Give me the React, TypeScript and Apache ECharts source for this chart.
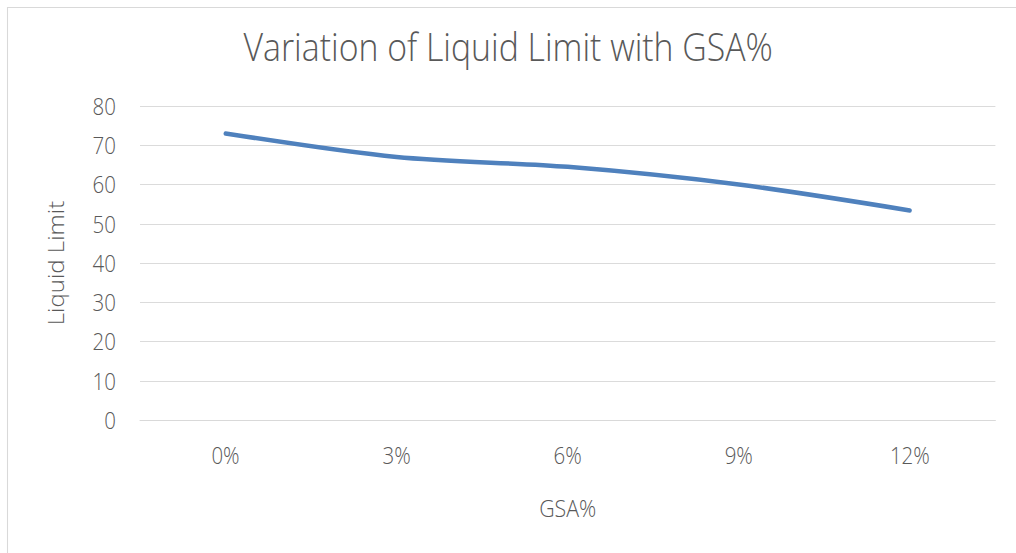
import React, { useEffect, useRef } from "react";
import * as echarts from "echarts";

const categories = ["0%", "3%", "6%", "9%", "12%"];
const liquidLimit = [73, 67, 64.5, 60, 53.4];
const yTicks = { min: 0, max: 80, interval: 10 };

const FONT = "'Open Sans', 'Noto Sans', sans-serif";
const TEXT = "#595959";
// the reference picture is horizontally compressed; reproduce that squeeze
const SX = 0.89;
const W = 1016 / SX;
const H = 553;

export default function App() {
  const ref = useRef<HTMLDivElement>(null);
  useEffect(() => {
    const chart = echarts.init(ref.current!, null, { renderer: "svg" });
    chart.setOption({
      animation: false,
      backgroundColor: "#ffffff",
      title: {
        text: "Variation of Liquid Limit with GSA%",
        left: "center",
        top: 23,
        padding: [5, 5, 5, 17],
        textStyle: { fontFamily: FONT, fontSize: 38, fontWeight: 300, color: TEXT },
      },
      graphic: [
        {
          type: "rect",
          shape: { x: 7.5 / SX, y: 7.5, width: W + 40, height: H + 40 },
          style: { fill: "none", stroke: "#d9d9d9", lineWidth: 1.2 },
          silent: true,
        },
      ],
      grid: { left: 140 / SX, right: W - 995 / SX, top: 106, bottom: H - 420, containLabel: false },
      xAxis: {
        type: "category",
        data: categories,
        boundaryGap: true,
        name: "GSA%",
        nameLocation: "middle",
        nameGap: 76,
        nameTextStyle: { fontFamily: FONT, fontSize: 24, fontWeight: 300, color: TEXT },
        axisLine: { show: true, lineStyle: { color: "#d9d9d9", width: 1 } },
        axisTick: { show: false },
        axisLabel: { fontFamily: FONT, fontSize: 23, fontWeight: 300, color: TEXT, margin: 24 },
      },
      yAxis: {
        type: "value",
        min: yTicks.min,
        max: yTicks.max,
        interval: yTicks.interval,
        name: "Liquid Limit",
        nameLocation: "middle",
        nameGap: 82,
        nameRotate: 90,
        nameTextStyle: { fontFamily: FONT, fontSize: 24, fontWeight: 300, color: TEXT },
        axisLine: { show: false },
        axisTick: { show: false },
        axisLabel: { fontFamily: FONT, fontSize: 23, fontWeight: 300, color: TEXT, margin: 27 },
        splitLine: { show: true, lineStyle: { color: "#d9d9d9", width: 1 } },
      },
      series: [
        {
          type: "line",
          data: liquidLimit,
          smooth: 0.3,
          symbol: "none",
          lineStyle: { color: "#4F81BD", width: 4.5, cap: "round", join: "round" },
        },
      ],
    });
    return () => chart.dispose();
  }, []);
  return (
    <div
      ref={ref}
      style={{
        position: "fixed",
        left: 0,
        top: 0,
        width: W,
        height: H,
        transform: `scaleX(${SX})`,
        transformOrigin: "0 0",
      }}
    />
  );
}
